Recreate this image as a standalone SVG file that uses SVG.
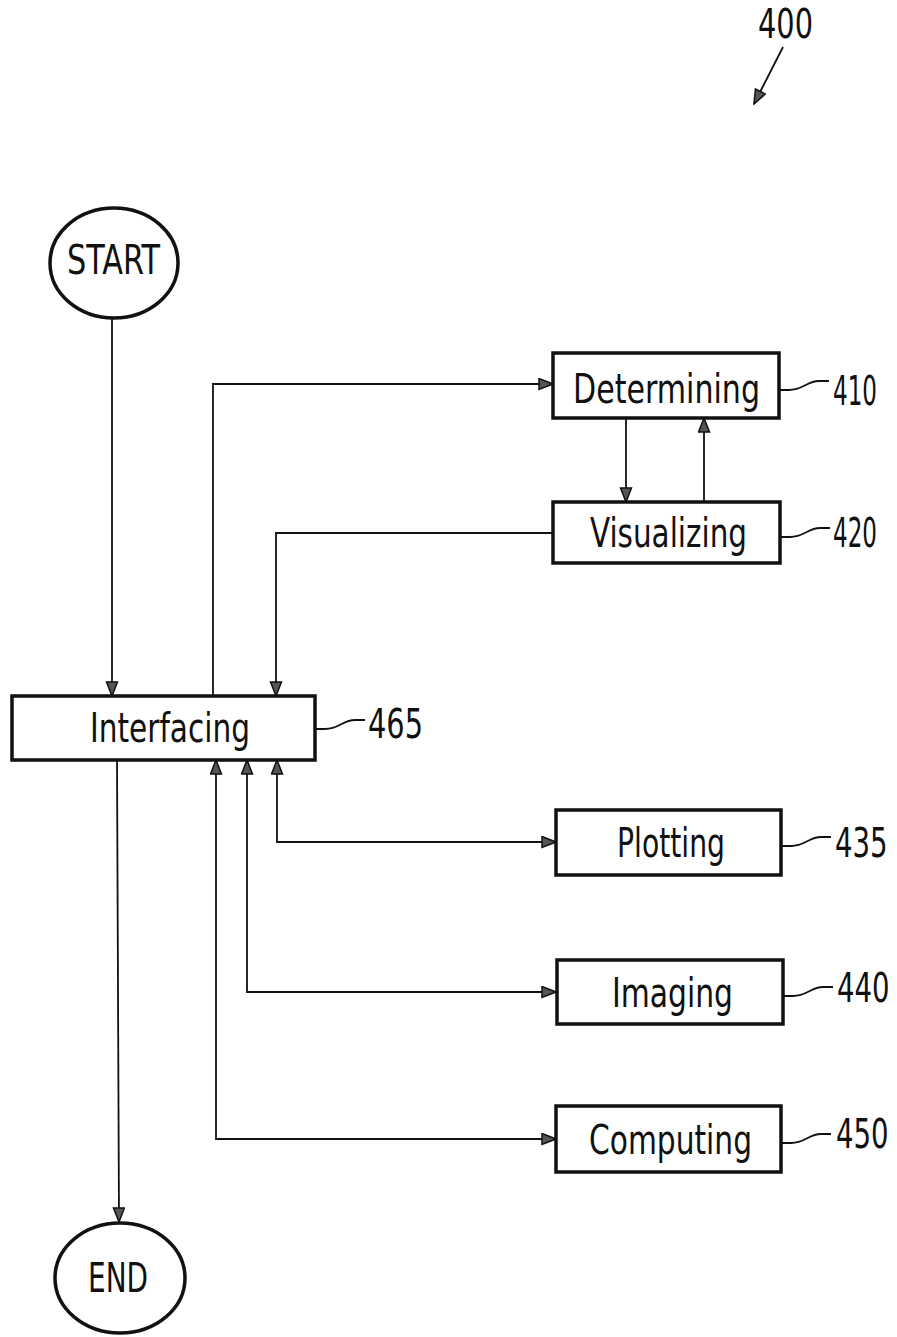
<svg xmlns="http://www.w3.org/2000/svg" width="897" height="1337" viewBox="0 0 897 1337">
<style>
.box{fill:#fff;stroke:#111;stroke-width:3.5}
.term{fill:#fff;stroke:#111;stroke-width:3.5}
.conn{fill:none;stroke:#111;stroke-width:1.8}
.lead{fill:none;stroke:#111;stroke-width:1.8}
.t{font-family:"DejaVu Sans Condensed","DejaVu Sans",sans-serif;font-size:41px;fill:#111}
.lbl{font-family:"DejaVu Sans Condensed","DejaVu Sans",sans-serif;font-size:41px;fill:#111}
</style>
<defs>
<marker id="ah" markerUnits="userSpaceOnUse" markerWidth="16" markerHeight="14" refX="15" refY="6.5" orient="auto-start-reverse">
<path d="M1,1 L15,6.5 L1,12 Z" fill="#555" stroke="#111" stroke-width="1.5"/>
</marker>
</defs>
<rect width="897" height="1337" fill="#fff"/>
<g id="connectors">
<path class="conn" d="M112,318 V696" marker-end="url(#ah)"/>
<path class="conn" d="M213,696 V384 H553" marker-end="url(#ah)"/>
<path class="conn" d="M626,418 V502" marker-end="url(#ah)"/>
<path class="conn" d="M704,502 V418" marker-end="url(#ah)"/>
<path class="conn" d="M553,533 H276 V696" marker-end="url(#ah)"/>
<path class="conn" d="M117,760 L119,1222" marker-end="url(#ah)"/>
<path class="conn" d="M277,760 V842 H556" marker-start="url(#ah)" marker-end="url(#ah)"/>
<path class="conn" d="M247,760 V992 H556" marker-start="url(#ah)" marker-end="url(#ah)"/>
<path class="conn" d="M216,760 V1139 H556" marker-start="url(#ah)" marker-end="url(#ah)"/>
<path class="conn" d="M783,47 L754,104" marker-end="url(#ah)"/>
</g>
<g id="start">
<ellipse class="term" cx="114" cy="263" rx="64" ry="55"/>
<text class="t" x="67" y="274" font-size="36" textLength="93" lengthAdjust="spacingAndGlyphs">START</text>
</g>
<g id="end">
<ellipse class="term" cx="120" cy="1278" rx="65" ry="55"/>
<text class="t" x="88" y="1292" font-size="37" textLength="60" lengthAdjust="spacingAndGlyphs">END</text>
</g>
<g id="n410">
<rect class="box" x="553" y="353" width="226" height="65"/>
<text class="t" x="573" y="403" textLength="187" lengthAdjust="spacingAndGlyphs">Determining</text>
<path class="lead" d="M779,390 h10 c14,0 18,-9 30,-9 h10"/>
<text class="lbl" transform="matrix(0.62,0,0,1,833,405)" x="0" y="0" textLength="71" lengthAdjust="spacingAndGlyphs">410</text>
</g>
<g id="n420">
<rect class="box" x="553" y="502" width="227" height="61"/>
<text class="t" x="590" y="547" textLength="157" lengthAdjust="spacingAndGlyphs">Visualizing</text>
<path class="lead" d="M780,537 h10 c14,0 18,-9 30,-9 h10"/>
<text class="lbl" transform="matrix(0.62,0,0,1,833,547)" x="0" y="0" textLength="71" lengthAdjust="spacingAndGlyphs">420</text>
</g>
<g id="n465">
<rect class="box" x="12" y="696" width="303" height="64"/>
<text class="t" x="90" y="742" textLength="160" lengthAdjust="spacingAndGlyphs">Interfacing</text>
<path class="lead" d="M315,729 h10 c14,0 18,-9 30,-9 h10"/>
<text class="lbl" x="368" y="738" textLength="55" lengthAdjust="spacingAndGlyphs">465</text>
</g>
<g id="n435">
<rect class="box" x="556" y="810" width="225" height="65"/>
<text class="t" x="617" y="857" textLength="108" lengthAdjust="spacingAndGlyphs">Plotting</text>
<path class="lead" d="M781,846 h10 c14,0 18,-9 30,-9 h10"/>
<text class="lbl" transform="matrix(0.72,0,0,1,835,857)" x="0" y="0" textLength="73" lengthAdjust="spacingAndGlyphs">435</text>
</g>
<g id="n440">
<rect class="box" x="557" y="960" width="226" height="64"/>
<text class="t" x="612" y="1007" textLength="121" lengthAdjust="spacingAndGlyphs">Imaging</text>
<path class="lead" d="M783,996 h10 c14,0 18,-9 30,-9 h10"/>
<text class="lbl" transform="matrix(0.72,0,0,1,837,1002)" x="0" y="0" textLength="73" lengthAdjust="spacingAndGlyphs">440</text>
</g>
<g id="n450">
<rect class="box" x="556" y="1106" width="225" height="66"/>
<text class="t" x="589" y="1154" textLength="163" lengthAdjust="spacingAndGlyphs">Computing</text>
<path class="lead" d="M781,1143 h10 c14,0 18,-9 30,-9 h10"/>
<text class="lbl" transform="matrix(0.72,0,0,1,836,1148)" x="0" y="0" textLength="73" lengthAdjust="spacingAndGlyphs">450</text>
</g>
<g id="ref400">
<text class="lbl" x="758" y="38" font-size="36" textLength="55" lengthAdjust="spacingAndGlyphs">400</text>
</g>
</svg>
